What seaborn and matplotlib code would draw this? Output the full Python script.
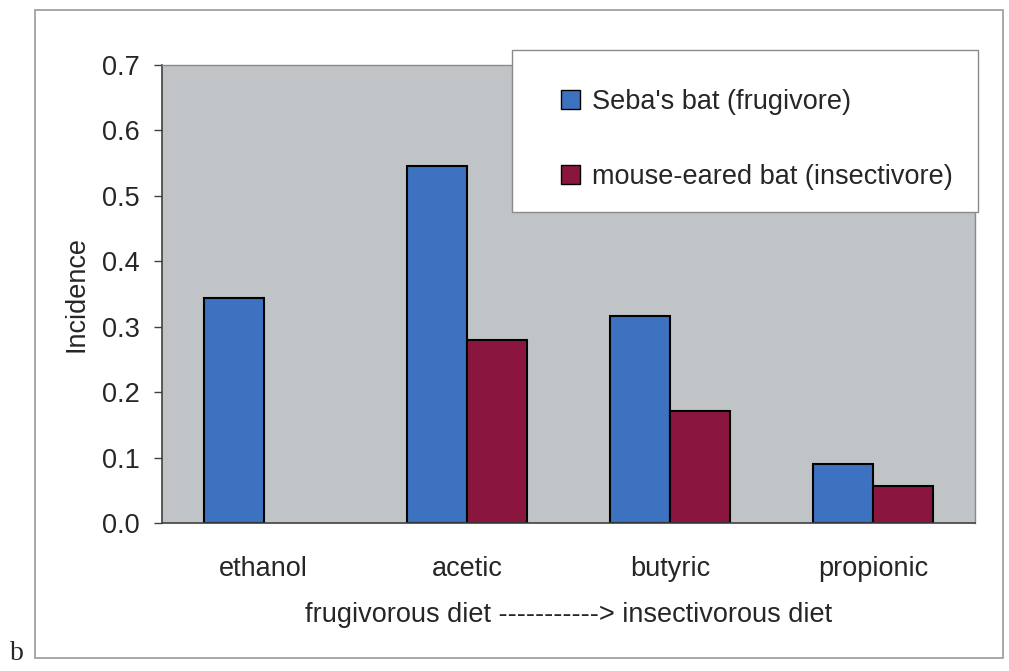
import matplotlib
matplotlib.use("Agg")
import matplotlib.pyplot as plt
import seaborn as sns
import pandas as pd
from matplotlib.patches import Rectangle, Patch

categories = ["ethanol", "acetic", "butyric", "propionic"]
series_names = ["Seba's bat (frugivore)", "mouse-eared bat (insectivore)"]
seba_values = [0.344, 0.546, 0.317, 0.090]
mouse_values = [0.0, 0.280, 0.171, 0.057]
yticks = [0.0, 0.1, 0.2, 0.3, 0.4, 0.5, 0.6, 0.7]
colors = ["#3d72c0", "#8a1640"]

df = pd.DataFrame({
    "acid": categories * 2,
    "species": [series_names[0]] * 4 + [series_names[1]] * 4,
    "incidence": seba_values + mouse_values,
})

sns.set_theme(style="white")
plt.rcParams["font.family"] = ["Liberation Sans", "DejaVu Sans"]
FS = 19.5

W, H = 1009, 671
fig = plt.figure(figsize=(W / 100, H / 100), dpi=100)
fig.patch.set_facecolor("white")

# outer frame
fig.patches.append(Rectangle((35 / W, 1 - 658 / H), (1003 - 35) / W, (658 - 10) / H,
                             transform=fig.transFigure, fill=False,
                             edgecolor="#9a9a9a", linewidth=1.2, zorder=0))

ax = fig.add_axes([162 / W, 1 - 523 / H, (975 - 162) / W, (523 - 65) / H])
ax.set_facecolor("#c0c4c7")

sns.barplot(data=df, x="acid", y="incidence", hue="species", order=categories,
            hue_order=series_names, palette=colors, width=0.59, dodge=True,
            edgecolor="black", linewidth=1.5, saturation=1, ax=ax, legend=False)
for p in ax.patches:
    if p.get_height() == 0:
        p.set_visible(False)

ax.set_ylim(0, 0.7)
ax.set_xlim(-0.5, 3.5)
ax.set_yticks(yticks)
ax.set_yticklabels([f"{v:.1f}" for v in yticks], fontsize=FS)
ax.set_xticks(range(len(categories)))
ax.set_xticklabels(categories, fontsize=FS)
ax.set_xticks([-0.5, 0.5, 1.5, 2.5, 3.5], minor=True)
ax.tick_params(axis="x", which="major", length=0, pad=24)
ax.tick_params(axis="x", which="minor", length=6, width=1, color="#404040", direction="out")
ax.tick_params(axis="y", which="major", length=6, width=1, color="#404040", direction="out",
               left=True, pad=10)
ax.set_ylabel("Incidence", fontsize=FS, labelpad=9)
ax.set_xlabel("frugivorous diet -----------> insectivorous diet", fontsize=FS, labelpad=14)

for s in ["left", "bottom"]:
    ax.spines[s].set_color("#404040")
    ax.spines[s].set_linewidth(1.2)
for s in ["top", "right"]:
    ax.spines[s].set_color("#8a8a8a")
    ax.spines[s].set_linewidth(1.0)

# legend box
fig.patches.append(Rectangle((512 / W, 1 - 212 / H), (978 - 512) / W, (212 - 50) / H,
                             transform=fig.transFigure, facecolor="white",
                             edgecolor="#8a8a8a", linewidth=1.0, zorder=5))
handles = [Patch(facecolor=colors[0], edgecolor="black", linewidth=1.0),
           Patch(facecolor=colors[1], edgecolor="black", linewidth=1.0)]
leg = fig.legend(handles, series_names, loc="upper left",
                 bbox_to_anchor=(561 / W, 1 - 89 / H), frameon=False,
                 fontsize=FS, borderpad=0, borderaxespad=0,
                 handlelength=0.7, handleheight=0.7, handletextpad=0.45,
                 labelspacing=1.8)
leg.set_zorder(6)

fig.text(10 / W, 1 - 654 / H, "b", fontsize=20, family=["Liberation Serif", "DejaVu Serif"],
         va="center", ha="left")

fig.savefig("out.png", dpi=100)
